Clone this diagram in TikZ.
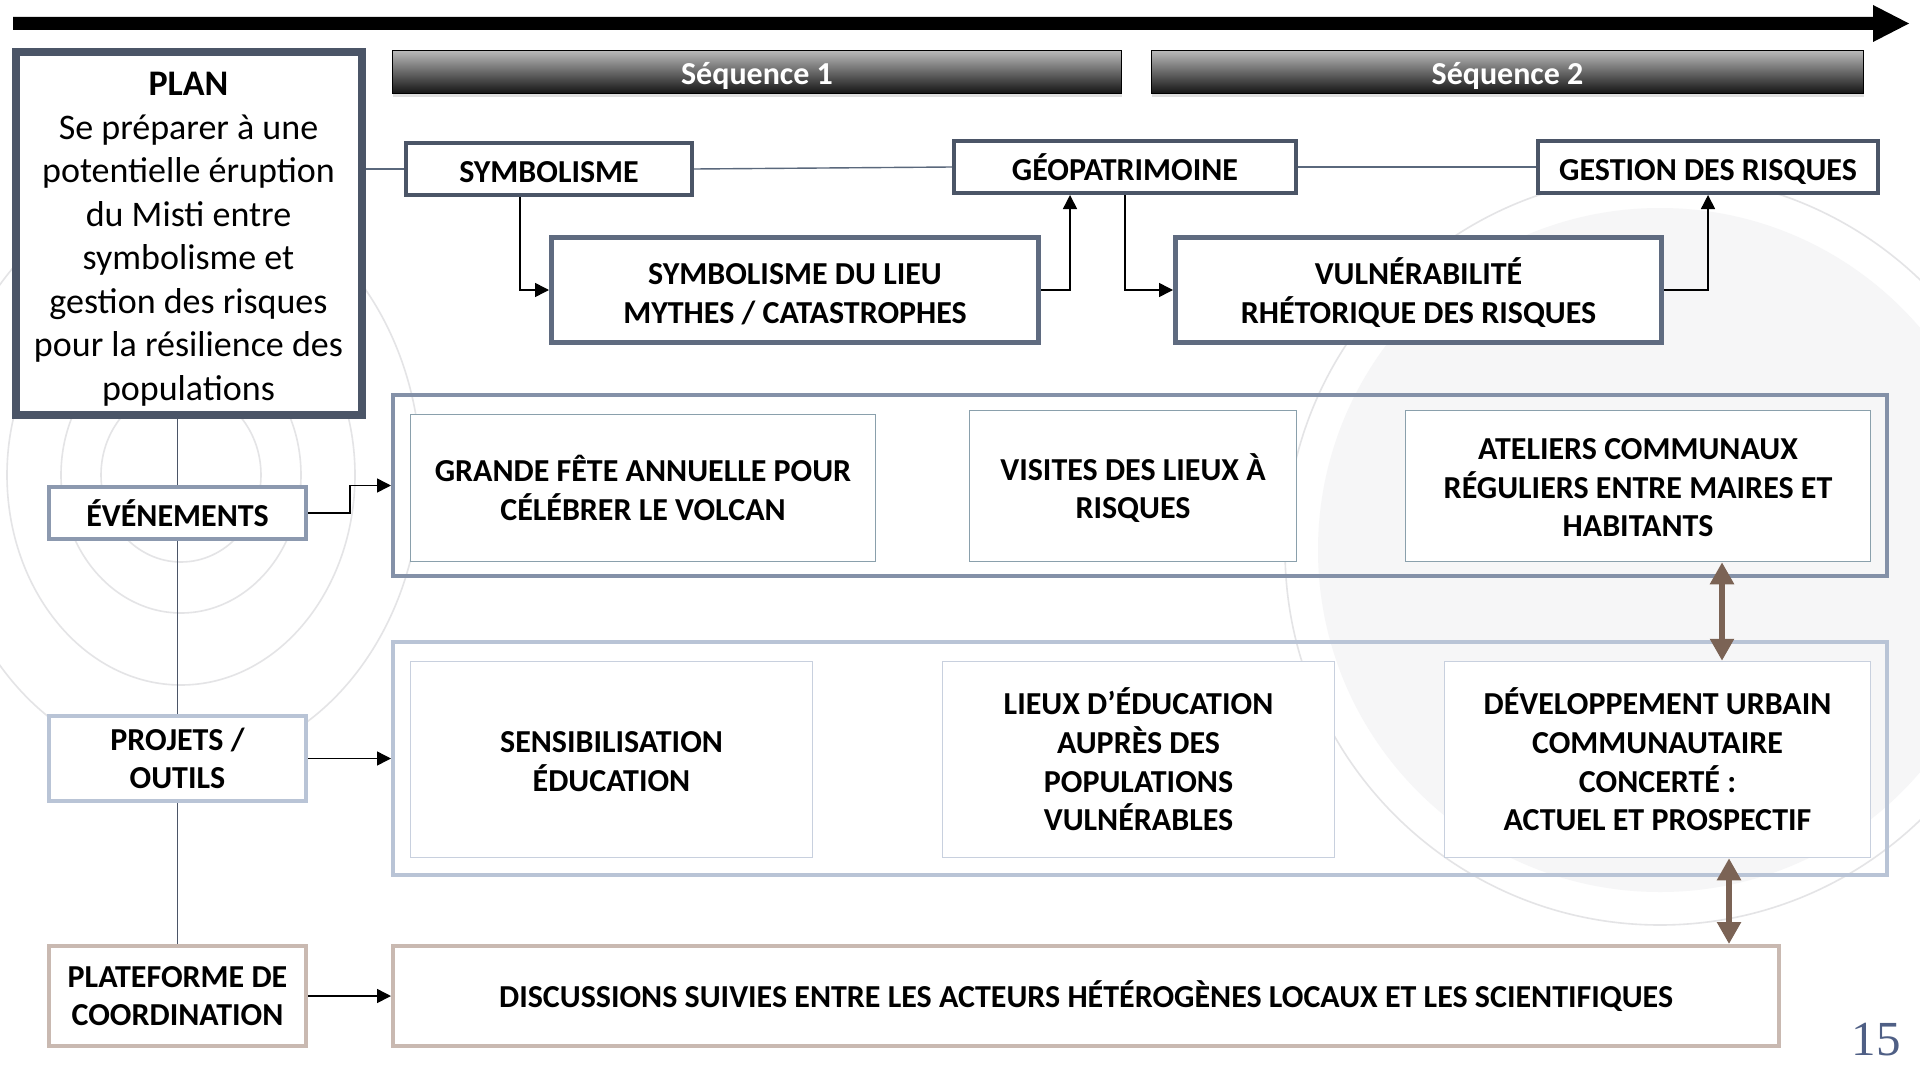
\documentclass[tikz,border=0pt]{standalone}
\usepackage{fontspec}
\setmainfont{Carlito}
\newfontfamily\numfont{Liberation Serif}
\usetikzlibrary{arrows.meta,shadows,calc}
\definecolor{planc}{HTML}{4B5567}
\definecolor{midc}{HTML}{5F6B80}
\definecolor{connc}{HTML}{5A687C}
\definecolor{c1c}{HTML}{8491A8}
\definecolor{c2c}{HTML}{B9C4D6}
\definecolor{c3c}{HTML}{C9B9B1}
\definecolor{in1c}{HTML}{8AA0AC}
\definecolor{in2c}{HTML}{C8D0DE}
\definecolor{evc}{HTML}{8C99AF}
\definecolor{brownc}{HTML}{7B6355}
\definecolor{ringc}{HTML}{E4E4E6}
\definecolor{discfill}{HTML}{F6F6F7}
\definecolor{numc}{HTML}{4F5F85}
\newcommand{\lift}[1]{\rule{0pt}{#1}}
\begin{document}
\begin{tikzpicture}[x=0.5pt,y=-0.5pt,
  sz/.style 2 args={minimum width=#1*0.5pt, minimum height=#2*0.5pt, inner sep=0pt},
  txt/.style={font=\fontsize{16}{19.3}\selectfont\bfseries, align=center, text=black},
  oneline/.style={text height=13pt, text depth=0pt},
  planbox/.style={draw=planc, line width=4pt, fill=white, align=center,
    font=\fontsize{18}{21.75}\selectfont},
  tbox/.style={draw=planc, line width=2pt, fill=white, txt, oneline},
  mbox/.style={draw=midc, line width=2.5pt, fill=white, txt},
  cont/.style={line width=2pt},
  ibox1/.style={draw=in1c, line width=0.75pt, fill=white, txt},
  ibox2/.style={draw=in2c, line width=0.75pt, fill=white, txt},
  lbox/.style={line width=2pt, fill=white, txt},
  seqbar/.style={draw=black, line width=0.5pt, top color=black!27, bottom color=black!92,
    text=white, font=\fontsize{16}{19.3}\selectfont\bfseries, oneline,
    drop shadow={shadow xshift=0pt, shadow yshift=-2pt, opacity=0.25}},
  conn/.style={draw=connc, line width=0.7pt},
  vline/.style={draw=planc, line width=0.7pt},
  arr/.style={draw=black, line width=0.75pt, -{Triangle[length=7pt,width=7pt]}},
  dbl/.style={draw=brownc, line width=2.8pt,
    {Triangle[length=11pt,width=11.5pt]}-{Triangle[length=11pt,width=11.5pt]}},
  ring/.style={draw=ringc, line width=0.8pt}
]
\useasboundingbox (0,0) rectangle (1920,1081);
\fill[white] (0,0) rectangle (1920,1081);
% background decoration
\begin{scope}
\clip (0,0) rectangle (1920,1081);
\fill[discfill] (1660,550) circle [radius=171pt];
\draw[ring] (1660,550) circle [radius=187.5pt];
\draw[ring] (181,475) ellipse [x radius=40pt, y radius=43.5pt];
\draw[ring] (181,475) ellipse [x radius=60pt, y radius=69pt];
\draw[ring] (181,475) ellipse [x radius=87pt, y radius=105pt];
\draw[ring] (181,475) ellipse [x radius=120pt, y radius=145pt];
\end{scope}
% timeline arrow
\fill[black] (13,17) -- (1873,17) -- (1873,5) -- (1909,23.5) -- (1873,42) -- (1873,30) -- (13,30) -- cycle;
% plan
\node[planbox, sz={346}{363}] (plan) at (188.5,233.5)
  {\lift{17.5pt}\textbf{PLAN}\\Se préparer à une\\potentielle éruption\\du Misti entre\\symbolisme et\\gestion des risques\\pour la résilience des\\populations};
% sequences
\node[seqbar, sz={729}{43}] (seq1) at (757,72) {Séquence 1};
\node[seqbar, sz={712}{43}] (seq2) at (1507.5,72) {Séquence 2};
% top row
\node[tbox, sz={286}{52}] (symb) at (549,169) {SYMBOLISME};
\node[tbox, sz={342}{52}] (geo) at (1125,167) {GÉOPATRIMOINE};
\node[tbox, sz={340}{52}] (gest) at (1708,167) {GESTION DES RISQUES};
\node[mbox, sz={487}{105}] (sdl) at (795,290) {\lift{14.5pt}SYMBOLISME DU LIEU\\MYTHES / CATASTROPHES};
\node[mbox, sz={486}{105}] (vuln) at (1418.5,290) {\lift{16pt}VULNÉRABILITÉ\\RHÉTORIQUE DES RISQUES};
% containers
\node[cont, draw=c1c, sz={1494}{181}] (c1) at (1140,485.5) {};
\node[ibox1, sz={465}{147}] (fete) at (643,488) {GRANDE FÊTE ANNUELLE POUR\\CÉLÉBRER LE VOLCAN};
\node[ibox1, sz={327}{151}] (visites) at (1133,486) {\lift{15.5pt}VISITES DES LIEUX À\\RISQUES};
\node[ibox1, sz={465}{151}] (ateliers) at (1638,486) {\lift{12.5pt}ATELIERS COMMUNAUX\\RÉGULIERS ENTRE MAIRES ET\\HABITANTS};
\node[cont, draw=c2c, sz={1494}{233}] (c2) at (1140,758.5) {};
\node[ibox2, sz={402}{196}] (sens) at (611.5,759.5) {\lift{12.5pt}SENSIBILISATION\\ÉDUCATION};
\node[ibox2, sz={392}{196}] (lieux) at (1138.5,759.5) {LIEUX D’ÉDUCATION\\AUPRÈS DES\\POPULATIONS\\VULNÉRABLES};
\node[ibox2, sz={426}{196}] (dev) at (1657.5,759.5) {DÉVELOPPEMENT URBAIN\\COMMUNAUTAIRE\\CONCERTÉ :\\ACTUEL ET PROSPECTIF};
\node[cont, draw=c3c, fill=white, txt, sz={1386}{100}] (c3) at (1086,996)
  {DISCUSSIONS SUIVIES ENTRE LES ACTEURS HÉTÉROGÈNES LOCAUX ET LES SCIENTIFIQUES};
% left column
\node[lbox, draw=evc, sz={257}{52}] (even) at (177.5,513) {ÉVÉNEMENTS};
\node[lbox, draw=c2c, sz={257}{85}] (proj) at (177.5,758.5) {PROJETS /\\OUTILS};
\node[lbox, draw=c3c, sz={257}{100}] (plat) at (177.5,996) {PLATEFORME DE\\COORDINATION};
% connectors top
\draw[conn] (plan.east |- symb.west) -- (symb.west);
\draw[conn] (symb.east) -- (geo.west);
\draw[conn] (geo.east) -- (gest.west);
\coordinate (xs) at (520,0);
\coordinate (xg) at (1070,0);
\draw[arr] (symb.south -| xs) |- (sdl.west);
\draw[arr] (sdl.east) -| (geo.south -| xg);
\draw[arr] (geo.south) |- (vuln.west);
\draw[arr] (vuln.east) -| (gest.south);
% left column connectors
\draw[vline] (plan.south -| even.north) -- (even.north);
\draw[vline] (even.south) -- (proj.north);
\draw[vline] (proj.south) -- (plat.north);
\draw[arr] (even.east) -- ++(42,0) |- (c1.west);
\draw[arr] (proj.east) -- (proj.east -| c2.west);
\draw[arr] (plat.east) -- (c3.west);
% brown double arrows
\coordinate (xa) at (1722,0);
\coordinate (xb) at (1729,0);
\draw[dbl] (ateliers.south -| xa) -- (dev.north -| xa);
\draw[dbl] (dev.south -| xb) -- (c3.north -| xb);
% page number
\node[text=numc, font=\numfont\fontsize{24.5}{28}\selectfont, inner sep=0pt] (num) at (1876,1040) {15};
\end{tikzpicture}
\end{document}
